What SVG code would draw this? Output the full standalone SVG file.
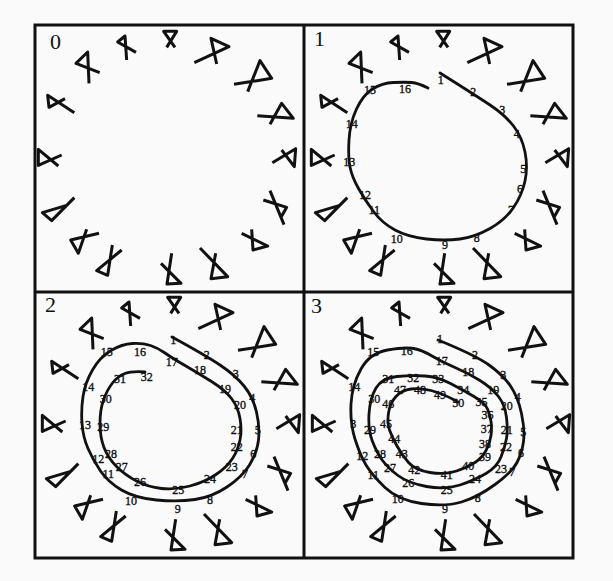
<svg xmlns="http://www.w3.org/2000/svg" xmlns:xlink="http://www.w3.org/1999/xlink" width="613" height="581" viewBox="0 0 613 581">
<style>
.frame{fill:none;stroke:#111;stroke-width:3}
.glyph{fill:none;stroke:#111;stroke-width:9;stroke-linejoin:round;stroke-linecap:butt}
.curve{fill:none;stroke:#111;stroke-width:2.8;stroke-linecap:round;stroke-linejoin:round}
.pl{font-family:"Liberation Serif","Times New Roman",serif;font-size:22px;fill:#111}
.n{font-family:"Liberation Serif","Times New Roman",serif;font-size:12px;fill:#111;stroke:#111;stroke-width:0.35;text-anchor:middle}
</style>
<defs>
<g id="ring" class="glyph" transform="translate(25,20) scale(0.33333)">
<path d="M192,190 L188,96 L153,130 L224,158"/>
<path d="M305,120 L300,48 L278,66 L333,97"/>
<path d="M425,82 L455,34 L416,34 L450,82"/>
<path d="M575,132 L558,55 L612,80 L508,128"/>
<path d="M668,215 L705,122 L740,175 L627,193"/>
<path d="M735,313 L770,250 L805,295 L697,287"/>
<path d="M742,428 L812,386 L808,440 L770,390"/>
<path d="M735,512 L777,614 M715,540 L785,562 L768,592"/>
<path d="M650,640 L728,678 L684,690 L680,628"/>
<path d="M525,684 L608,770 L558,776 L572,700"/>
<path d="M440,700 L426,792 L468,790 L408,730"/>
<path d="M262,675 L248,766 L215,752 L290,690"/>
<path d="M185,628 L160,700 L137,660 L222,640"/>
<path d="M148,533 L80,602 L52,578 L125,556"/>
<path d="M110,405 L40,436 L40,388 L100,438"/>
<path d="M148,278 L68,226 L72,262 L120,236"/>
</g>
</defs>
<rect x="0" y="0" width="613" height="581" fill="#fafafa"/>
<g id="frame">
<rect class="frame" x="35" y="25" width="538" height="533"/>
<line class="frame" x1="304" y1="25" x2="304" y2="558"/>
<line class="frame" x1="35" y1="292" x2="573" y2="292"/>
</g>
<g id="panel0">
<use xlink:href="#ring" href="#ring"/>
<text class="pl" x="50" y="49">0</text>
</g>
<g id="panel1">
<use xlink:href="#ring" href="#ring" x="273" y="0"/>
<text class="pl" x="314" y="46">1</text>
<path class="curve" d="M440,73 Q475,95 490,105 Q505,115 513.5,126 Q522,137 525,152 Q528,167 525,181 Q522,195 513.5,207.5 Q505,220 490,228.5 Q475,237 460,239 Q445,241 426.5,239 Q408,237 395,230 Q382,223 373.5,211.5 Q365,200 358.5,188.5 Q352,177 350,167 Q348,157 349,140 Q350,123 356.5,109 Q363,95 372.5,89 Q382,83 393.5,82.5 Q405,82 411.5,82.5 Q418,83 428,88"/>
<g>
<text class="n" x="440.7" y="83.5">1</text>
<text class="n" x="473.3" y="95.5">2</text>
<text class="n" x="502.3" y="114">3</text>
<text class="n" x="516.7" y="137.5">4</text>
<text class="n" x="523.3" y="172.5">5</text>
<text class="n" x="520" y="193">6</text>
<text class="n" x="511" y="214">7</text>
<text class="n" x="476.7" y="241.5">8</text>
<text class="n" x="445" y="249">9</text>
<text class="n" x="396.7" y="242.5">10</text>
<text class="n" x="374.3" y="214">11</text>
<text class="n" x="365" y="199">12</text>
<text class="n" x="349.3" y="165.5">13</text>
<text class="n" x="351.7" y="127.5">14</text>
<text class="n" x="370" y="94">15</text>
<text class="n" x="405" y="93">16</text>
</g>
</g>
<g id="panel2">
<use xlink:href="#ring" href="#ring" x="4" y="266"/>
<text class="pl" x="45" y="312">2</text>
<path class="curve" d="M172,337 Q205,355 220,365 Q235,375 244,386 Q253,397 256.5,412 Q260,427 258.5,440 Q257,453 249.5,465 Q242,477 227,487 Q212,497 195,499.5 Q178,502 156.5,500 Q135,498 121.5,490 Q108,482 100.5,471 Q93,460 88,448.5 Q83,437 82,423.5 Q81,410 83,396.5 Q85,383 92.5,370 Q100,357 111,350.5 Q122,344 132.5,343.5 Q143,343 150.5,345.5 Q158,348 165,353 Q172,358 185,365.5 Q198,373 211.5,381.5 Q225,390 231.5,398.5 Q238,407 240,418.5 Q242,430 240,440 Q238,450 232.5,458.5 Q227,467 216,474.5 Q205,482 190,486 Q175,490 161.5,488.5 Q148,487 136.5,481 Q125,475 116.5,466.5 Q108,458 104,447.5 Q100,437 100,423.5 Q100,410 103.5,400 Q107,390 112.5,383 Q118,376 125,373.5 Q132,371 145,372"/>
<g>
<text class="n" x="173.3" y="344">1</text>
<text class="n" x="206.7" y="359">2</text>
<text class="n" x="235.7" y="377.5">3</text>
<text class="n" x="252.3" y="401.5">4</text>
<text class="n" x="257.7" y="434">5</text>
<text class="n" x="253.3" y="457.5">6</text>
<text class="n" x="245" y="477.5">7</text>
<text class="n" x="210" y="503.5">8</text>
<text class="n" x="177.7" y="512.5">9</text>
<text class="n" x="131" y="504.5">10</text>
<text class="n" x="108.3" y="477.5">11</text>
<text class="n" x="98.3" y="462.5">12</text>
<text class="n" x="85" y="429">13</text>
<text class="n" x="88.3" y="390.5">14</text>
<text class="n" x="106.7" y="355.5">15</text>
<text class="n" x="140" y="355.5">16</text>
<text class="n" x="171.7" y="365.5">17</text>
<text class="n" x="200" y="374">18</text>
<text class="n" x="225" y="392.5">19</text>
<text class="n" x="240" y="409">20</text>
<text class="n" x="236.7" y="434">21</text>
<text class="n" x="236.7" y="450.5">22</text>
<text class="n" x="231.7" y="470.5">23</text>
<text class="n" x="210" y="482.5">24</text>
<text class="n" x="178.3" y="494">25</text>
<text class="n" x="140" y="485.5">26</text>
<text class="n" x="121.7" y="470.5">27</text>
<text class="n" x="111" y="457.5">28</text>
<text class="n" x="103.3" y="430.5">29</text>
<text class="n" x="105.7" y="402.5">30</text>
<text class="n" x="120" y="382.5">31</text>
<text class="n" x="146.7" y="380.5">32</text>
</g>
</g>
<g id="panel3">
<use xlink:href="#ring" href="#ring" x="274" y="266"/>
<text class="pl" x="311" y="313">3</text>
<path class="curve" d="M438,340 Q475,355 489,365 Q503,375 510.5,386 Q518,397 521.5,413.5 Q525,430 523.5,441.5 Q522,453 517,462.5 Q512,472 495,484.5 Q478,497 461.5,502 Q445,507 421.5,503.5 Q398,500 385,487.5 Q372,475 366,465 Q360,455 355,439 Q350,423 351,404 Q352,385 361,369 Q370,353 387.5,350 Q405,347 413.5,348.5 Q422,350 432,356 Q442,362 455,367.5 Q468,373 480,380.5 Q492,388 498.5,396.5 Q505,405 506.5,417.5 Q508,430 506.5,438.5 Q505,447 501,457 Q497,467 486,473.5 Q475,480 460,485 Q445,490 426.5,486.5 Q408,483 398,475.5 Q388,468 382.5,460.5 Q377,453 372.5,441.5 Q368,430 369,414 Q370,398 376,388 Q382,378 397,376.5 Q412,375 425,376 Q438,377 450.5,383.5 Q463,390 474,396.5 Q485,403 487.5,409 Q490,415 491,421.5 Q492,428 491,435.5 Q490,443 486,450.5 Q482,458 475,462.5 Q468,467 456.5,471 Q445,475 430,472.5 Q415,470 408.5,462.5 Q402,455 397,446 Q392,437 389.5,430 Q387,423 388.5,413 Q390,403 396,396.5 Q402,390 411,389 Q420,388 431,390.5 Q442,393 458,402"/>
<g>
<text class="n" x="440" y="342.5">1</text>
<text class="n" x="475" y="359">2</text>
<text class="n" x="503.3" y="379">3</text>
<text class="n" x="517.7" y="400.5">4</text>
<text class="n" x="523.3" y="435.5">5</text>
<text class="n" x="521" y="456.5">6</text>
<text class="n" x="512.3" y="475.5">7</text>
<text class="n" x="477.7" y="501.5">8</text>
<text class="n" x="445" y="513">9</text>
<text class="n" x="397.7" y="503">10</text>
<text class="n" x="373.3" y="478.5">11</text>
<text class="n" x="362.3" y="459.5">12</text>
<text class="n" x="353.3" y="428">3</text>
<text class="n" x="354.3" y="390.5">14</text>
<text class="n" x="373.3" y="355.5">15</text>
<text class="n" x="406.7" y="354.5">16</text>
<text class="n" x="441.7" y="364.5">17</text>
<text class="n" x="468.3" y="375.5">18</text>
<text class="n" x="493.3" y="393.5">19</text>
<text class="n" x="506.7" y="410">20</text>
<text class="n" x="506.7" y="434">21</text>
<text class="n" x="506" y="450.5">22</text>
<text class="n" x="501" y="472.5">23</text>
<text class="n" x="475" y="482.5">24</text>
<text class="n" x="446.7" y="493.5">25</text>
<text class="n" x="408.3" y="486.5">26</text>
<text class="n" x="390" y="471.5">27</text>
<text class="n" x="380" y="458">28</text>
<text class="n" x="370" y="433.5">29</text>
<text class="n" x="374.3" y="403">30</text>
<text class="n" x="388.3" y="382.5">31</text>
<text class="n" x="413.3" y="381.5">32</text>
<text class="n" x="438.3" y="382.5">33</text>
<text class="n" x="463.3" y="394">34</text>
<text class="n" x="481.5" y="405.5">35</text>
<text class="n" x="487.5" y="419">36</text>
<text class="n" x="486.7" y="432.5">37</text>
<text class="n" x="485" y="447.5">38</text>
<text class="n" x="485" y="460.5">39</text>
<text class="n" x="468.3" y="470">40</text>
<text class="n" x="446.7" y="478.5">41</text>
<text class="n" x="414.3" y="474">42</text>
<text class="n" x="401.7" y="458">43</text>
<text class="n" x="394.3" y="442.5">44</text>
<text class="n" x="386" y="428">45</text>
<text class="n" x="388.3" y="408">46</text>
<text class="n" x="400" y="393.5">47</text>
<text class="n" x="420" y="393.5">48</text>
<text class="n" x="440" y="399">49</text>
<text class="n" x="458.3" y="406.5">50</text>
</g>
</g>
</svg>
